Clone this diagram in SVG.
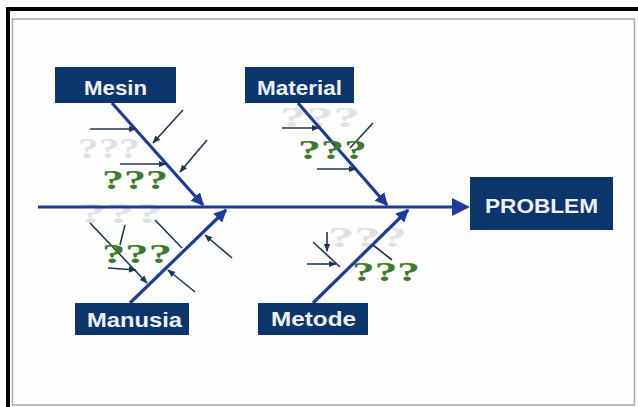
<svg xmlns="http://www.w3.org/2000/svg" width="638" height="407" viewBox="0 0 638 407">
<defs>
<style>
.box{fill:#0c356b}
.lbl{font-family:"Liberation Sans",Arial,sans-serif;font-weight:bold;font-size:21px;fill:#eef2f7}
.bone{stroke:#1c3c9c;stroke-width:3.2;fill:none}
.sub{stroke:#1f3550;stroke-width:1.6;fill:none}
.q{font-family:"Liberation Serif","Times New Roman",serif;font-weight:bold;font-size:27px;fill:#3d7a2a}
.qf{font-family:"Liberation Serif","Times New Roman",serif;font-weight:bold;font-size:30px;fill:#e2e2e2}
</style>
<marker id="ab" viewBox="0 0 10 10" refX="9" refY="5" markerWidth="4" markerHeight="4" orient="auto" markerUnits="strokeWidth"><path d="M0,0 L10,5 L0,10 z" fill="#1c3c9c"/></marker>
<marker id="as" viewBox="0 0 10 10" refX="9" refY="5" markerWidth="5" markerHeight="5" orient="auto" markerUnits="strokeWidth"><path d="M0,1 L10,5 L0,9 z" fill="#1f3550"/></marker>
</defs>
<rect x="0" y="0" width="638" height="407" fill="#ffffff"/>
<path d="M8,407 L8,9 L638,9" stroke="#000" stroke-width="4" fill="none"/>
<rect x="12.5" y="19" width="622" height="386" fill="#fefefe" stroke="#a8a8a8" stroke-width="1.5"/>

<g id="faint-text">
<text class="qf" x="78" y="158" textLength="62" lengthAdjust="spacingAndGlyphs">???</text>
<text class="qf" x="280" y="127" textLength="80" lengthAdjust="spacingAndGlyphs">???</text>
<text class="qf" x="78" y="223" textLength="85" lengthAdjust="spacingAndGlyphs">???</text>
<text class="qf" x="328" y="247" textLength="79" lengthAdjust="spacingAndGlyphs">???</text>
</g>

<g id="connectors">
<line class="bone" x1="38" y1="207" x2="456" y2="207" stroke-width="4.5"/>
<path d="M452,198 L470,207 L452,216 z" fill="#1c3c9c"/>
<line class="bone" x1="112" y1="103" x2="203" y2="205" marker-end="url(#ab)"/>
<line class="bone" x1="298" y1="103" x2="387" y2="205" marker-end="url(#ab)"/>
<line class="bone" x1="130" y1="303" x2="226" y2="210" marker-end="url(#ab)"/>
<line class="bone" x1="313" y1="303" x2="408" y2="210" marker-end="url(#ab)"/>

<line class="sub" x1="90" y1="129" x2="136" y2="129" marker-end="url(#as)"/>
<line class="sub" x1="183" y1="110" x2="153" y2="143" marker-end="url(#as)"/>
<line class="sub" x1="120" y1="164" x2="166" y2="164" marker-end="url(#as)"/>
<line class="sub" x1="207" y1="140" x2="180" y2="172" marker-end="url(#as)"/>

<line class="sub" x1="282" y1="128" x2="319" y2="128" marker-end="url(#as)"/>
<line class="sub" x1="373" y1="123" x2="350" y2="148"/>
<line class="sub" x1="317" y1="169" x2="356" y2="169" marker-end="url(#as)"/>

<line class="sub" x1="90" y1="223" x2="147" y2="283" marker-end="url(#as)"/>
<line class="sub" x1="125" y1="225" x2="120" y2="245"/>
<line class="sub" x1="108" y1="268" x2="136" y2="270" marker-end="url(#as)"/>
<line class="sub" x1="155" y1="220" x2="182" y2="248"/>
<line class="sub" x1="232" y1="258" x2="205" y2="235" marker-end="url(#as)"/>
<line class="sub" x1="195" y1="292" x2="168" y2="270" marker-end="url(#as)"/>

<line class="sub" x1="327" y1="232" x2="327" y2="251" marker-end="url(#as)"/>
<line class="sub" x1="313" y1="242" x2="340" y2="267"/>
<line class="sub" x1="307" y1="264" x2="336" y2="264" marker-end="url(#as)"/>
<line class="sub" x1="373" y1="245" x2="392" y2="260"/>
</g>

<g id="green-text">
<text class="q" x="102" y="189" textLength="66" lengthAdjust="spacingAndGlyphs">???</text>
<text class="q" x="298" y="159" textLength="69" lengthAdjust="spacingAndGlyphs">???</text>
<text class="q" x="102" y="263" textLength="70" lengthAdjust="spacingAndGlyphs">???</text>
<text class="q" x="352" y="281" textLength="68" lengthAdjust="spacingAndGlyphs">???</text>
</g>

<g id="mesin"><rect class="box" x="55" y="67" width="121" height="36"/><text class="lbl" x="84" y="95" textLength="63" lengthAdjust="spacingAndGlyphs">Mesin</text></g>
<g id="material"><rect class="box" x="245" y="67" width="109" height="36"/><text class="lbl" x="257" y="95" textLength="85" lengthAdjust="spacingAndGlyphs">Material</text></g>
<g id="manusia"><rect class="box" x="75" y="303" width="114" height="32"/><text class="lbl" x="87" y="327" textLength="95" lengthAdjust="spacingAndGlyphs">Manusia</text></g>
<g id="metode"><rect class="box" x="258" y="303" width="110" height="32"/><text class="lbl" x="271" y="326" textLength="85" lengthAdjust="spacingAndGlyphs">Metode</text></g>
<g id="problem"><rect class="box" x="470" y="177" width="143" height="53"/><text class="lbl" x="485" y="213" font-size="24" textLength="113" lengthAdjust="spacingAndGlyphs">PROBLEM</text></g>
</svg>
